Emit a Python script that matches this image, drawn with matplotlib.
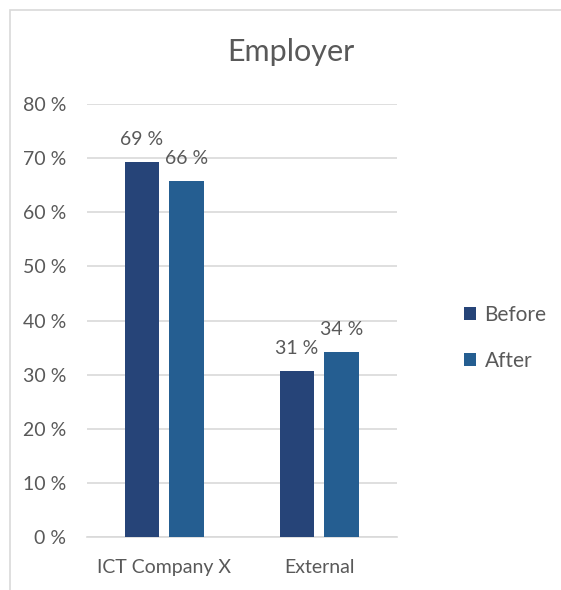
import numpy as np
import matplotlib.pyplot as plt
from matplotlib.patches import Rectangle

categories = ["ICT Company X", "External"]
before = [69.3, 30.7]
after = [65.8, 34.2]
series_names = ["Before", "After"]
yticks = [0, 10, 20, 30, 40, 50, 60, 70, 80]

plt.rcParams["font.family"] = ["Lato", "DejaVu Sans"]
text_color = "#595959"
grid_color = "#d9d9d9"

fig = plt.figure(figsize=(5.61, 5.90), dpi=100)
ax = fig.add_axes([0.155, 0.0898, 0.5526, 0.7339])

# chart frame (only top and left edges fall inside the image)
fig.patches.append(Rectangle((10 / 561, -0.1), 1.2, 1 - 9.5 / 590 + 0.1,
                             transform=fig.transFigure, fill=False,
                             edgecolor=grid_color, linewidth=1.2))

x = np.arange(len(categories))
w = 0.225
off = 0.145
b1 = ax.bar(x - off, before, w, color="#264478", label=series_names[0], zorder=3)
b2 = ax.bar(x + off, after, w, color="#255e91", label=series_names[1], zorder=3)

for bars, vals in [(b1, before), (b2, after)]:
    for r, v in zip(bars, vals):
        ax.annotate(f"{v:.0f} %", (r.get_x() + r.get_width() / 2, v),
                    xytext=(0, 10), textcoords="offset points",
                    ha="center", va="bottom", fontsize=14, color=text_color)

ax.set_xlim(-0.5, 1.5)
ax.set_ylim(0, 80)
ax.set_yticks(yticks)
ax.set_yticklabels([f"{t} %" for t in yticks])
ax.set_xticks(x)
ax.set_xticklabels(categories)
ax.tick_params(length=0, labelsize=14, colors=text_color)
ax.tick_params(axis="y", pad=15)
ax.tick_params(axis="x", pad=16)
ax.yaxis.grid(True, color=grid_color, linewidth=1.2, zorder=0)
for s in ["top", "right", "left"]:
    ax.spines[s].set_visible(False)
ax.spines["bottom"].set_color(grid_color)
ax.spines["bottom"].set_linewidth(1.2)

fig.text(291 / 561, 1 - 52 / 590, "Employer", ha="center", va="center",
         fontsize=22, color=text_color)

ax.legend(loc="center left", bbox_to_anchor=(1.155, 0.46), frameon=False,
          fontsize=15, labelcolor=text_color, handlelength=0.6,
          handleheight=0.6, handletextpad=0.4, labelspacing=1.25)

fig.savefig("out.png", dpi=100)
